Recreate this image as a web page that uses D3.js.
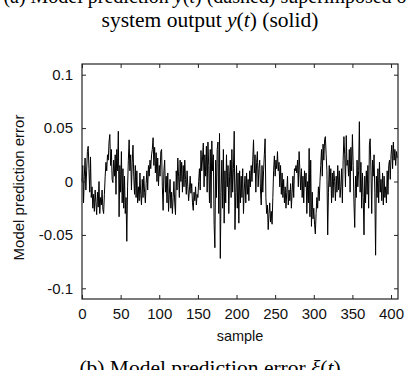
<!DOCTYPE html>
<html>
<head>
<meta charset="utf-8">
<script src="https://cdn.jsdelivr.net/npm/d3@7"></script>
<style>
  body { margin: 0; background: #fff; }
  svg { display: block; }
</style>
</head>
<body>
<div id="chart"></div>
<script>
// model prediction error, one value per sample
var predError = [
    0.000, 0.015, -0.020, 0.005, 0.022, -0.008, 0.010, 0.028, 0.033, 0.012,
    -0.010, 0.023, -0.015, -0.005, -0.025, -0.012, -0.028, -0.008, -0.020, -0.031,
    -0.010, -0.024, 0.000, -0.030, -0.015, -0.022, -0.008, -0.026, -0.030, -0.012,
    0.005, 0.018, 0.010, 0.025, 0.020, 0.037, 0.044, 0.015, 0.030, 0.002,
    -0.001, 0.020, 0.005, 0.025, -0.012, 0.030, 0.010, 0.047, -0.033, 0.015,
    -0.010, 0.028, -0.020, 0.012, -0.025, 0.005, -0.030, -0.015, -0.056, -0.005,
    0.020, 0.039, 0.010, 0.025, -0.008, 0.018, 0.034, 0.005, -0.012, 0.015,
    -0.015, 0.010, -0.020, -0.005, -0.018, 0.008, -0.012, -0.022, 0.002, -0.015,
    0.005, -0.010, -0.020, -0.002, 0.010, -0.008, 0.015, 0.005, 0.020, 0.012,
    0.025, 0.030, 0.041, 0.015, 0.032, 0.008, 0.027, 0.000, 0.022, -0.004,
    0.015, 0.005, 0.028, 0.030, -0.005, -0.027, 0.010, 0.020, -0.010, 0.005,
    -0.020, 0.008, -0.028, -0.012, 0.002, -0.025, -0.010, -0.030, -0.015, 0.000,
    -0.020, -0.031, 0.010, -0.008, 0.022, 0.005, -0.015, 0.020, 0.000, 0.018,
    -0.010, 0.015, -0.005, 0.020, 0.002, -0.012, 0.010, -0.005, -0.018, -0.008,
    0.005, -0.011, -0.002, -0.020, -0.027, -0.010, -0.018, -0.005, -0.022, -0.012,
    -0.015, 0.000, 0.012, -0.008, 0.029, 0.010, 0.022, 0.036, -0.005, 0.025,
    0.005, 0.033, -0.010, 0.037, 0.015, -0.020, 0.030, -0.025, 0.038, 0.010,
    0.025, -0.040, -0.062, 0.020, -0.015, 0.030, 0.037, -0.030, 0.045, -0.072,
    -0.010, 0.020, -0.025, 0.030, -0.039, 0.010, -0.020, 0.025, -0.005, 0.015,
    -0.030, 0.005, 0.020, -0.015, 0.030, -0.010, 0.012, 0.047, -0.045, -0.010,
    0.015, -0.025, 0.008, -0.039, 0.010, -0.020, 0.005, -0.015, 0.012, -0.030,
    -0.008, 0.005, -0.020, 0.008, -0.012, 0.002, -0.018, 0.010, -0.005, 0.015,
    0.000, 0.020, 0.039, 0.008, 0.025, -0.010, 0.018, 0.028, -0.005, 0.012,
    0.020, -0.008, -0.022, 0.015, -0.010, 0.010, 0.025, 0.040, -0.015, -0.030,
    -0.022, -0.045, -0.030, -0.020, -0.038, -0.028, -0.040, -0.015, 0.010, 0.024,
    0.005, 0.020, 0.012, 0.028, 0.010, 0.018, -0.005, 0.015, -0.012, 0.008,
    -0.015, 0.002, -0.020, -0.005, -0.025, -0.010, 0.005, -0.022, -0.008, -0.018,
    -0.002, -0.025, -0.010, 0.005, -0.015, 0.012, 0.010, 0.015, 0.008, 0.020,
    -0.005, 0.028, 0.010, -0.008, 0.012, -0.015, 0.005, -0.020, 0.010, -0.005,
    0.008, -0.030, 0.000, -0.020, 0.031, -0.033, 0.020, -0.042, -0.010, -0.035,
    -0.025, -0.040, -0.049, -0.030, -0.015, -0.025, -0.005, -0.018, 0.000, 0.015,
    0.030, 0.005, 0.035, 0.020, 0.039, 0.042, 0.025, 0.010, -0.050, -0.010,
    0.015, -0.005, 0.012, -0.020, 0.008, -0.015, 0.010, 0.000, -0.018, 0.005,
    -0.010, 0.015, -0.008, 0.010, -0.015, -0.005, 0.012, -0.020, 0.020, 0.042,
    0.025, -0.005, 0.043, 0.015, 0.020, 0.005, 0.030, -0.010, 0.032, 0.010,
    0.044, 0.015, -0.020, -0.043, 0.005, -0.015, 0.020, -0.005, 0.010, 0.056,
    -0.010, 0.018, -0.025, 0.008, -0.015, -0.050, 0.005, -0.020, 0.010, -0.012,
    0.015, -0.025, 0.035, 0.040, 0.010, -0.030, 0.020, 0.005, 0.025, -0.010,
    -0.069, 0.005, -0.015, 0.012, -0.020, 0.018, -0.010, 0.002, -0.018, 0.008,
    -0.022, 0.005, -0.015, -0.005, -0.020, 0.010, -0.012, 0.015, 0.020, 0.002,
    0.025, 0.034, 0.012, 0.037, 0.020, 0.030, 0.015, 0.028, 0.022
];

var xTicks = [0, 50, 100, 150, 200, 250, 300, 350, 400];
var yTicks = [-0.1, -0.05, 0, 0.05, 0.1];
var yTickLabels = ["-0.1", "-0.05", "0", "0.05", "0.1"];

var width = 406;
var height = 370;
var plot = { left: 82, right: 398, top: 64, bottom: 299 };

var svg = d3.select("#chart")
    .append("svg")
    .attr("width", width)
    .attr("height", height);

var x = d3.scaleLinear()
    .domain([0, 409])
    .range([plot.left, plot.right]);

var y = d3.scaleLinear()
    .domain([-0.11, 0.11])
    .range([plot.bottom, plot.top]);

// the error trace
svg.append("path")
    .datum(predError)
    .attr("fill", "none")
    .attr("stroke", "#000")
    .attr("stroke-width", 1)
    .attr("stroke-linejoin", "round")
    .attr("d", d3.line()
        .x((d, i) => x(i))
        .y((d) => y(d))
    );

// axes, ticks point inward, mirrored on top/right
var tickFont = "'Liberation Sans', Arial, sans-serif";

var gx = svg.append("g")
    .attr("transform", "translate(0," + plot.bottom + ")")
    .call(d3.axisBottom(x).tickValues(xTicks).tickSizeInner(-4).tickSizeOuter(0).tickPadding(9));

var gy = svg.append("g")
    .attr("transform", "translate(" + plot.left + ",0)")
    .call(d3.axisLeft(y).tickValues(yTicks).tickSizeInner(-4).tickSizeOuter(0).tickPadding(9)
        .tickFormat((d, i) => yTickLabels[i]));

var gxTop = svg.append("g")
    .attr("transform", "translate(0," + plot.top + ")")
    .call(d3.axisTop(x).tickValues(xTicks).tickSizeInner(-4).tickSizeOuter(0).tickFormat(""));

var gyRight = svg.append("g")
    .attr("transform", "translate(" + plot.right + ",0)")
    .call(d3.axisRight(y).tickValues(yTicks).tickSizeInner(-4).tickSizeOuter(0).tickFormat(""));

[gx, gy, gxTop, gyRight].forEach(function(g) {
    g.select(".domain").remove();
    g.selectAll(".tick line").attr("stroke", "#222");
    g.selectAll("text")
        .attr("fill", "#111")
        .style("font-family", tickFont)
        .style("font-size", "15px");
});

svg.append("rect")
    .attr("x", plot.left)
    .attr("y", plot.top)
    .attr("width", plot.right - plot.left)
    .attr("height", plot.bottom - plot.top)
    .attr("fill", "none")
    .attr("stroke", "#222")
    .attr("stroke-width", 1.2);

// axis titles
svg.append("text")
    .attr("x", (plot.left + plot.right) / 2)
    .attr("y", 341)
    .attr("text-anchor", "middle")
    .style("font-family", tickFont)
    .style("font-size", "14.5px")
    .attr("fill", "#111")
    .text("sample");

svg.append("text")
    .attr("transform", "translate(24," + ((plot.top + plot.bottom) / 2 + 6) + ") rotate(-90)")
    .attr("text-anchor", "middle")
    .style("font-family", tickFont)
    .style("font-size", "15px")
    .attr("fill", "#111")
    .text("Model prediction error");

// captions (serif, LaTeX-like)
var serif = "'Liberation Serif', 'Times New Roman', serif";

function caption(yPos, size, parts) {
    var t = svg.append("text")
        .attr("x", 210)
        .attr("y", yPos)
        .attr("text-anchor", "middle")
        .style("font-family", serif)
        .style("font-size", size + "px")
        .attr("fill", "#000");
    parts.forEach(function(p) {
        t.append("tspan")
            .style("font-style", p[1] ? "italic" : "normal")
            .text(p[0]);
    });
}

caption(3, 20, [["(a) Model prediction ", 0], ["ŷ", 1], ["(", 0], ["t", 1], [") (dashed) superimposed on", 0]]);
caption(27, 21.5, [["system output ", 0], ["y", 1], ["(", 0], ["t", 1], [") (solid)", 0]]);
caption(375, 21.5, [["(b) Model prediction error ", 0], ["ξ", 1], ["(", 0], ["t", 1], [")", 0]]);
</script>
</body>
</html>
